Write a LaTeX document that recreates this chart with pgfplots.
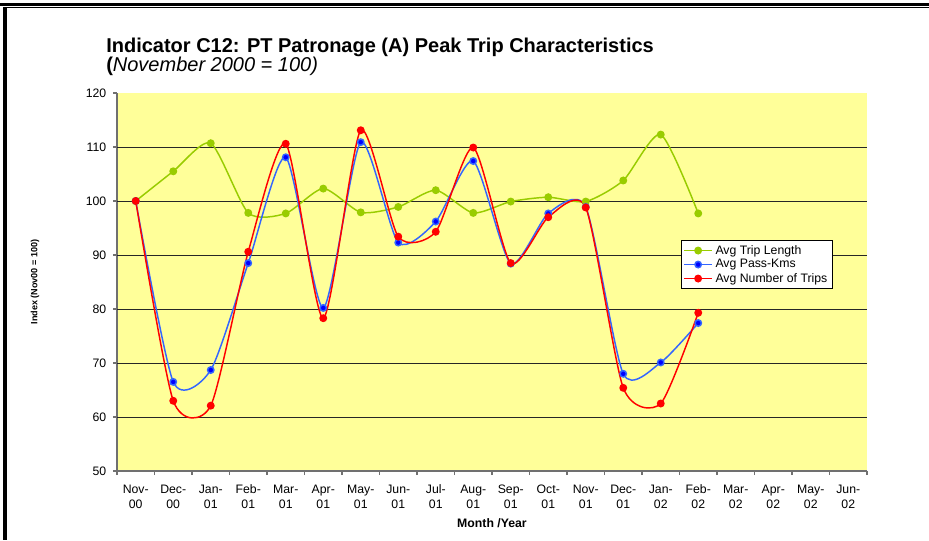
\documentclass[border=0pt]{standalone}
\usepackage{pgfplots}
\pgfplotsset{compat=1.18}
\usepackage{pgfplotstable}
\usepackage{fontspec}
\setmainfont{Liberation Sans}
\definecolor{plotbg}{HTML}{FFFF99}
\definecolor{cgreen}{HTML}{99CC00}
\definecolor{cblue}{HTML}{0000FF}
\definecolor{cbline}{HTML}{3366FF}
\definecolor{cred}{HTML}{FF0000}
\definecolor{axgray}{HTML}{707070}
\newcommand\tl[2]{\strut#1\\\strut#2}

\pgfplotstableread{
x trip pass num
0  100.0 100.0 100.0
1  105.5 66.5  63.0
2  110.7 68.7  62.1
3  97.8  88.5  90.6
4  97.7  108.1 110.6
5  102.3 80.2  78.3
6  97.9  110.9 113.1
7  98.9  92.3  93.4
8  102.0 96.2  94.3
9  97.8  107.4 109.9
10 99.9  88.4  88.5
11 100.7 97.7  97.0
12 99.9  98.9  98.8
13 103.8 68.0  65.4
14 112.3 70.1  62.5
15 97.7  77.4  79.3
}\datatable

\begin{document}
\begin{tikzpicture}
\path[use as bounding box] (0pt,0pt) rectangle (696.75pt,-405pt);
\draw[line width=2pt] (0pt,-3.375pt) -- (696.75pt,-3.375pt);
\draw[line width=0.75pt] (4.5pt,-5.625pt) -- (696.75pt,-5.625pt);
\draw[line width=3pt] (3.375pt,-5.25pt) -- (3.375pt,-405pt);
\node[anchor=base west, font=\bfseries\fontsize{15}{18}\selectfont, inner sep=0pt] at (79.5pt,-39pt) {Indicator C12: PT Patronage (A) Peak Trip Characteristics};
\node[anchor=base west, font=\fontsize{15}{18}\selectfont, inner sep=0pt] at (79.5pt,-53.25pt) {\textbf{(}\textit{November 2000 = 100)}};
\node[rotate=90, font=\bfseries\fontsize{6.8}{8}\selectfont, inner sep=0pt] at (26.25pt,-211.5pt) {Index (Nov00 = 100)};
\node[anchor=base, font=\bfseries\fontsize{9.2}{11}\selectfont, inner sep=0pt] at (369pt,-395.25pt) {Month /Year};

\begin{axis}[
  at={(87.75pt,-353.25pt)}, anchor=south west,
  scale only axis, width=562.5pt, height=283.5pt,
  xmin=-0.5, xmax=19.5, ymin=50, ymax=120,
  axis background/.style={fill=plotbg},
  axis x line*=bottom, axis y line*=left,
  axis line style={-, draw=axgray, line width=0.8pt},
  tick align=outside,
  major tick length=3pt,
  tick style={draw=axgray, line width=0.8pt},
  ytick={50,60,...,120},
  extra y ticks={60,70,...,110},
  extra y tick labels={},
  extra y tick style={grid=major, major tick length=0pt},
  grid style={draw=black!85, line width=0.7pt},
  xtick={-0.5,0.5,...,19.5},
  xticklabels={},
  extra x ticks={0,1,...,19},
  extra x tick labels={{\tl{Nov-}{00}},{\tl{Dec-}{00}},{\tl{Jan-}{01}},{\tl{Feb-}{01}},{\tl{Mar-}{01}},{\tl{Apr-}{01}},{\tl{May-}{01}},{\tl{Jun-}{01}},{\tl{Jul-}{01}},{\tl{Aug-}{01}},{\tl{Sep-}{01}},{\tl{Oct-}{01}},{\tl{Nov-}{01}},{\tl{Dec-}{01}},{\tl{Jan-}{02}},{\tl{Feb-}{02}},{\tl{Mar-}{02}},{\tl{Apr-}{02}},{\tl{May-}{02}},{\tl{Jun-}{02}}},
  extra x tick style={major tick length=0pt, xticklabel style={yshift=-5.2pt}},
  xticklabel style={align=center, font=\fontsize{9.2}{11.25}\selectfont},
  yticklabel style={font=\fontsize{9.2}{11}\selectfont, xshift=-1.5pt},
  /pgf/number format/assume math mode=true,
  legend style={at={(0.752,0.611)}, anchor=north west, fill=white, draw=black, line width=0.6pt,
    font=\fontsize{9.2}{11}\selectfont, inner sep=1.5pt, row sep=-1.5pt},
  legend cell align=left,
  legend image code/.code={\draw[mark repeat=2,mark phase=2] plot coordinates {(0pt,0pt) (10.5pt,0pt) (21pt,0pt)};},
  every axis plot/.append style={line width=1.1pt, smooth, tension=0.4, mark=*, mark size=2.4pt},
]
\addplot[color=cgreen, mark options={fill=cgreen, draw=none}] table[x=x, y=trip] {\datatable};
\addlegendentry{Avg Trip Length}
\addplot[color=cbline, mark options={fill=cblue, draw=none}] table[x=x, y=pass] {\datatable};
\addlegendentry{Avg Pass-Kms}
\addplot[color=cred, mark options={fill=cred, draw=none}] table[x=x, y=num] {\datatable};
\addlegendentry{Avg Number of Trips}
\end{axis}
\end{tikzpicture}
\end{document}
